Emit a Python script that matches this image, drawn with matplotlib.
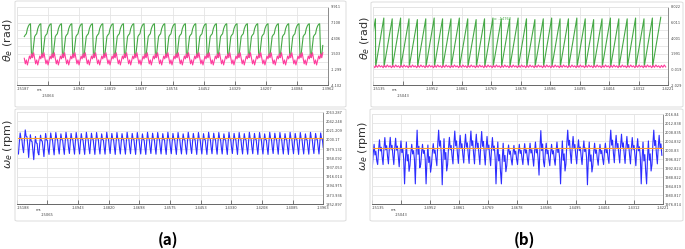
import numpy as np
import matplotlib.pyplot as plt
from matplotlib.patches import FancyBboxPatch

# ---------------- (a) top: rotor angle (rad) ----------------
ta_xlim = (-15187, -13962)
ta_xlabels = ["-15187", "-15064", "-14942", "-14819", "-14697", "-14574",
              "-14452", "-14329", "-14207", "-14084", "-13962"]
ta_ylim = (-4.102, 9.911)
ta_ylabels = ["-4.102", "-1.299", "1.503", "4.306", "7.108", "9.911"]
ta_start = -15145.0          # first sample, ms
ta_period = 40.6             # one electrical cycle, ms
ta_cycles = 29
ta_green = [0.9, 1.3, 3.0, 4.6, 4.9, 5.1, 6.0, 6.5, 6.8, 6.9]
ta_pink = [1.5, 0.8, 1.7, 0.7, -0.3, 0.4, -0.5, 0.3, 1.1, 0.6]

# ---------------- (a) bottom: speed (rpm) ----------------
wa_xlim = (-15188, -13963)
wa_xlabels = ["-15188", "-15065", "-14943", "-14820", "-14698", "-14575",
              "-14453", "-14330", "-14208", "-14085", "-13963"]
wa_ylim = (1852.897, 2063.287)
wa_ylabels = ["1852.897", "1873.936", "1894.975", "1916.014", "1937.053", "1958.092",
              "1979.131", "2000.17", "2021.209", "2042.248", "2063.287"]
wa_start = -15181.0
wa_period = 20.35
wa_shape = [0.0, 0.55, 1.0, 0.72, 0.70, 0.30]
wa_hi = [2016, 2023, 2012, 2008, 2011, 2015, 2016, 2017,
         2014, 2017.5, 2015, 2017, 2014.5, 2017.5, 2015.5, 2017, 2014, 2017.5,
         2015, 2017, 2014.5, 2017.5, 2015, 2017, 2014, 2017.5, 2015.5, 2017,
         2014.5, 2017.5, 2015, 2017, 2014, 2017.5, 2015, 2017, 2014.5, 2017.5,
         2015.5, 2017, 2014, 2017.5, 2015, 2017, 2014.5, 2017.5, 2015, 2017,
         2014, 2017.5, 2015.5, 2017, 2014.5, 2017.5, 2015, 2017, 2014, 2017.5,
         2015, 2016]
wa_lo = [1968, 1971, 1960, 1955, 1966, 1962, 1967, 1966,
         1968, 1967, 1969, 1967.5, 1968, 1967, 1968.5, 1967, 1968, 1967.5,
         1969, 1967, 1968, 1967.5, 1968.5, 1967, 1968, 1967, 1969, 1967.5,
         1968, 1967, 1968.5, 1967, 1968, 1967.5, 1969, 1967, 1968, 1967,
         1968.5, 1967.5, 1968, 1967, 1969, 1967, 1968, 1967.5, 1968.5, 1967,
         1968, 1967, 1969, 1967.5, 1968, 1967, 1968.5, 1967, 1968, 1967.5,
         1969, 1968]
wa_ref = 2005.0

# ---------------- (b) top: rotor angle (rad) ----------------
tb_xlim = (-15135, -14221)
tb_xlabels = ["-15135", "-15043", "-14952", "-14861", "-14769", "-14678",
              "-14586", "-14495", "-14404", "-14312", "-14221"]
tb_ylim = (-2.029, 8.022)
tb_ylabels = ["-2.029", "-0.019", "1.991", "4.001", "6.011", "8.022"]
tb_start = -15135.0
tb_period = 26.0
tb_first = 4.9
tb_low = 0.35
tb_peaks = [6.5, 6.6, 6.5, 6.6, 6.5, 6.4, 6.5, 6.6, 6.5, 6.5, 6.6, 6.5,
            6.4, 6.5, 6.6, 6.5, 6.5, 6.6, 6.5, 6.4, 6.5, 6.6, 6.5, 6.5,
            6.6, 6.5, 6.4, 6.5, 6.6, 6.5, 6.5, 6.6, 6.5, 6.6, 6.7]
tb_pink = [0.45, 0.2, 0.5, 0.25, 0.55, 0.3]

# ---------------- (b) bottom: speed (rpm) ----------------
wb_xlim = (-15135, -14221)
wb_xlabels = tb_xlabels
wb_ylim = (1976.814, 2016.84)
wb_ylabels = ["1976.814", "1980.817", "1984.819", "1988.822", "1992.824", "1996.827",
              "2000.83", "2004.832", "2008.835", "2012.838", "2016.84"]
wb_start = -15135.0
wb_period = 16.93
wb_shape = [0.0, 0.6, 1.0, 0.55, 0.7, 0.3]
wb_hi = [2003.5, 2005.5, 2006.5, 2006.6, 2006.2, 2005.0, 2004.5, 2003.5, 2009.8, 2003.5,
         2003.2, 2003.8, 2009.8, 2006.0, 2006.6, 2009.4, 2007.5, 2008.0, 2009.4, 2008.0,
         2009.2, 2007.0, 2006.5, 2004.5, 2004.0, 2003.2, 2003.0, 2003.5, 2003.8, 2004.0,
         2004.5, 2009.6, 2004.0, 2003.5, 2004.5, 2005.0, 2009.8, 2007.0, 2005.5, 2005.0,
         2004.5, 2004.0, 2003.5, 2004.0, 2009.8, 2007.5, 2008.0, 2007.0, 2006.5, 2006.0,
         2004.5, 2005.0, 2009.8, 2007.5]
wb_lo = [1993.0, 1994.5, 1994.5, 1994.8, 1994.5, 1993.5, 1985.9, 1994.0, 1985.9, 1994.5,
         1985.9, 1994.3, 1994.0, 1985.5, 1994.5, 1994.8, 1995.0, 1995.2, 1995.0, 1994.8,
         1994.5, 1994.3, 1994.0, 1985.9, 1985.9, 1994.0, 1994.3, 1994.5, 1994.5, 1994.3,
         1993.8, 1989.8, 1993.5, 1994.0, 1994.2, 1985.9, 1994.8, 1995.0, 1994.8, 1994.5,
         1985.5, 1994.0, 1994.2, 1994.5, 1995.0, 1995.3, 1995.2, 1995.0, 1994.8, 1994.0,
         1985.9, 1985.9, 1994.5, 1994.8]
wb_ref = 2002.0

GREEN = "#45a845"
PINK = "#ff3d9e"
BLUE = "#2d2dff"
ORANGE = "#ffa028"
GRID = "#e4e4e4"
TXT = "#444444"


def repeat_cycle(start, period, shape, n, skip=0):
    vals = np.tile(shape, n)[skip:]
    t = start + period * np.arange(len(vals)) / len(shape)
    return t, vals


def ripple(start, period, shape, hi, lo):
    shape = np.asarray(shape)
    vals = np.concatenate([l + (h - l) * shape for h, l in zip(hi, lo)])
    t = start + period * np.arange(len(vals)) / len(shape)
    return t, vals


def style(ax, xlim, xlabels, ylim, ylabels, half_grid):
    ax.set_xlim(xlim)
    ax.set_ylim(ylim)
    ax.set_xticks(np.linspace(xlim[0], xlim[1], len(xlabels)), xlabels)
    yt = np.linspace(ylim[0], ylim[1], len(ylabels))
    ax.set_yticks(yt, ylabels)
    if half_grid:
        ax.set_yticks((yt[:-1] + yt[1:]) / 2, minor=True)
    ax.yaxis.tick_right()
    ax.grid(True, which="both", color=GRID, lw=0.6)
    ax.set_axisbelow(True)
    for s in ("left", "top"):
        ax.spines[s].set_color(GRID)
        ax.spines[s].set_linewidth(0.6)
    ax.spines["right"].set_color("#777777")
    ax.spines["right"].set_linewidth(0.6)
    ax.spines["bottom"].set_color("#666666")
    ax.spines["bottom"].set_linewidth(0.7)
    ax.tick_params(axis="x", direction="in", length=3, width=0.6, color="#666666",
                   labelsize=2.6, labelcolor=TXT, pad=1.5)
    ax.tick_params(axis="y", which="both", length=0, labelsize=2.5,
                   labelcolor=TXT, pad=1.5)
    ticks = ax.xaxis.get_major_ticks()
    ticks[0].label1.set_horizontalalignment("left")
    ticks[1].set_pad(6.5)
    ax.text(0.063, -0.062, "ms", transform=ax.transAxes, fontsize=2.6,
            color=TXT, va="center", ha="left")


fig = plt.figure(figsize=(6.85, 2.49), dpi=100)
fig.patch.set_facecolor("white")

boxes = [(15, 1, 346, 107), (15, 109, 346, 221), (371, 2, 683, 107), (370, 109, 683, 221)]
for x0, y0, x1, y1 in boxes:
    fig.patches.append(FancyBboxPatch((x0 / 685, 1 - y1 / 249), (x1 - x0) / 685, (y1 - y0) / 249,
                                      boxstyle="round,pad=0,rounding_size=0.004",
                                      transform=fig.transFigure, fc="none",
                                      ec="#dcdcdc", lw=0.7))

ax_ta = fig.add_axes([0.0244, 0.6586, 0.4549, 0.3133])
ax_wa = fig.add_axes([0.0244, 0.1795, 0.4476, 0.3695])
ax_tb = fig.add_axes([0.5450, 0.6586, 0.4307, 0.3133])
ax_wb = fig.add_axes([0.5435, 0.1795, 0.4239, 0.3614])

# (a) angle
t, v = repeat_cycle(ta_start - 0.3 * ta_period, ta_period, ta_green, ta_cycles + 1, skip=3)
ax_ta.plot(t[:ta_cycles * 10], v[:ta_cycles * 10], color=GREEN, lw=0.8)
t, v = repeat_cycle(ta_start - 0.3 * ta_period, ta_period, ta_pink, ta_cycles + 1, skip=3)
ax_ta.plot(t[:ta_cycles * 10], v[:ta_cycles * 10], color=PINK, lw=0.8)
style(ax_ta, ta_xlim, ta_xlabels, ta_ylim, ta_ylabels, True)

# (a) speed
t, v = ripple(wa_start, wa_period, wa_shape, wa_hi, wa_lo)
ax_wa.plot(t, v, color=BLUE, lw=0.8)
ax_wa.plot([t[0], t[-1]], [wa_ref, wa_ref], color=ORANGE, lw=0.8)
style(ax_wa, wa_xlim, wa_xlabels, wa_ylim, wa_ylabels, False)

# (b) angle: sawtooth ramps
ts, vs = [tb_start], [tb_first]
for k, pk in enumerate(tb_peaks):
    c0 = tb_start + (k - 0.72) * tb_period
    if k > 0:
        ts.append(c0)
        vs.append(tb_low)
    ts.append(c0 + 0.97 * tb_period)
    vs.append(pk)
ax_tb.plot(ts, vs, color=GREEN, lw=0.8)
t, v = repeat_cycle(tb_start, tb_period, tb_pink, len(tb_peaks))
keep = t <= tb_xlim[1]
ax_tb.plot(t[keep], v[keep], color=PINK, lw=0.8)
style(ax_tb, tb_xlim, tb_xlabels, tb_ylim, tb_ylabels, True)
ax_tb.text(-14762, 6.35, "x: -14762", fontsize=2.6, color=GREEN)

# (b) speed
t, v = ripple(wb_start, wb_period, wb_shape, wb_hi, wb_lo)
ax_wb.plot(t, v, color=BLUE, lw=0.8)
ax_wb.plot([t[0], t[-1]], [wb_ref, wb_ref], color=ORANGE, lw=0.8)
style(ax_wb, wb_xlim, wb_xlabels, wb_ylim, wb_ylabels, False)

# axis titles and captions
lab = dict(rotation=90, ha="center", va="center", fontsize=8, color="#333333")
fig.text(0.0117, 0.839, r"$\theta_e$ (rad)", **lab)
fig.text(0.0117, 0.4217, r"$\omega_e$ (rpm)", **lab)
fig.text(0.533, 0.847, r"$\theta_e$ (rad)", **lab)
fig.text(0.530, 0.4137, r"$\omega_e$ (rpm)", **lab)
cap = dict(ha="center", va="center", fontsize=11, fontweight="bold",
           family=["Noto Sans CJK SC", "DejaVu Sans"])
fig.text(0.2453, 0.036, "(a)", **cap)
fig.text(0.765, 0.036, "(b)", **cap)

fig.savefig("out.png", dpi=100, facecolor="white")
